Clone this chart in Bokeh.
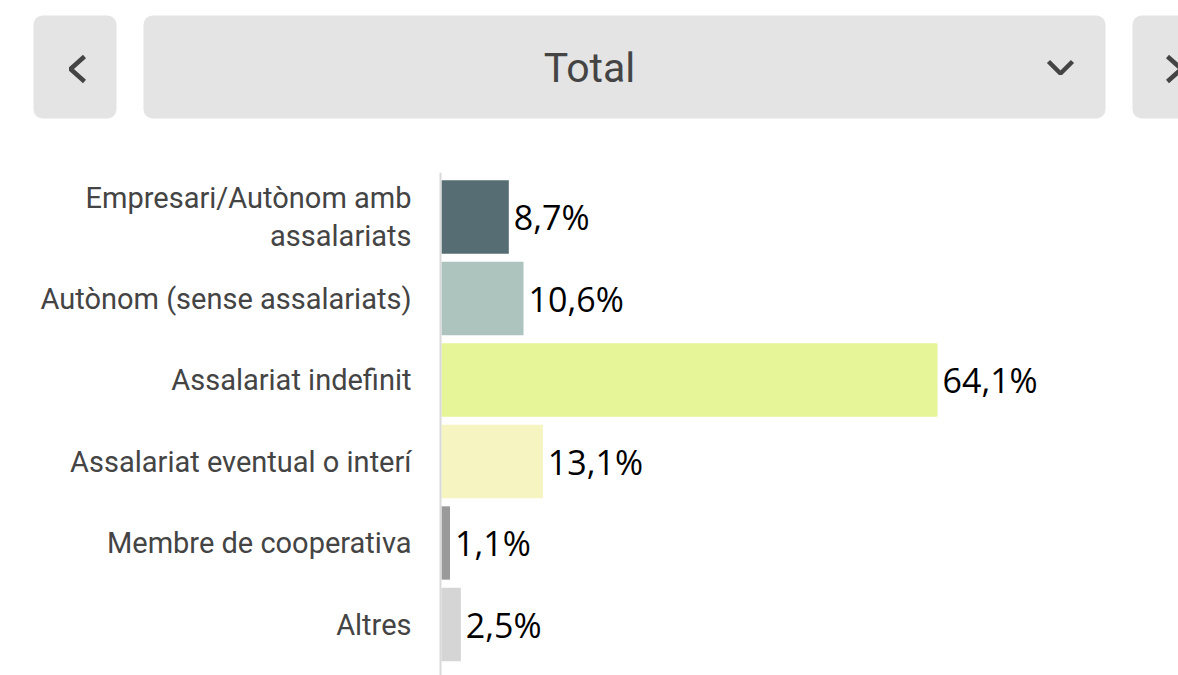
from bokeh.plotting import figure
from bokeh.models import Range1d, ColumnDataSource, Span
from bokeh.layouts import column
from bokeh.embed import file_html
from bokeh.resources import INLINE
from bokeh.core.properties import value

# ---- data ----
categories = [
    "Empresari/Autònom amb\nassalariats",
    "Autònom (sense assalariats)",
    "Assalariat indefinit",
    "Assalariat eventual o interí",
    "Membre de cooperativa",
    "Altres",
]
values = [8.7, 10.6, 64.1, 13.1, 1.1, 2.5]
value_labels = ["8,7%", "10,6%", "64,1%", "13,1%", "1,1%", "2,5%"]
colors = ["#566e73", "#adc4be", "#e6f598", "#f6f4c0", "#9a9a9a", "#d5d5d5"]
title_text = "Total"

W = 1178
HH = 172
CH = 503

# ---- header (selector bar) ----
hdr = figure(width=W, height=HH, output_backend="svg", toolbar_location=None,
             x_range=Range1d(0, W), y_range=Range1d(HH, 0),
             min_border=0)
hdr.axis.visible = False
hdr.grid.visible = False
hdr.outline_line_color = None

btn = ColumnDataSource(dict(left=[33, 143, 1132], right=[116, 1105, 1240],
                            top=[15, 15, 15], bottom=[118, 118, 118]))
hdr.quad(left="left", right="right", top="top", bottom="bottom", source=btn,
         fill_color="#e4e4e4", line_color=None, border_radius=9)
hdr.text(x=[589], y=[67], text=[title_text], text_font=value("Roboto"),
         text_font_size="41px", text_color="#444444", text_align="center",
         text_baseline="middle")
# chevrons
hdr.line(x=[84, 70, 84], y=[56, 68.5, 81], line_color="#444444", line_width=4.5)
hdr.line(x=[1048, 1060, 1072], y=[61, 73, 61], line_color="#444444", line_width=4.5)
hdr.line(x=[1167, 1181, 1167], y=[56, 68.5, 81], line_color="#444444", line_width=4.5)

# ---- bar chart ----
px_per_unit = 496 / 64.1
x0_page = 441
rows = list(range(len(categories)))
x_start = (0 - x0_page) / px_per_unit
x_end = (W - x0_page) / px_per_unit
y_top = (HH - 216.5) / 81.5
y_bot = (HH + CH - 216.5) / 81.5

p = figure(width=W, height=CH, output_backend="svg", toolbar_location=None,
           x_range=Range1d(x_start, x_end), y_range=Range1d(y_bot, y_top),
           min_border=0)
p.axis.visible = False
p.grid.visible = False
p.outline_line_color = None

src = ColumnDataSource(dict(y=rows, v=values, c=colors, cat=categories, lab=value_labels))
p.hbar(y="y", left=0, right="v", height=0.9, fill_color="c", line_color=None, source=src)
p.add_layout(Span(location=-0.13, dimension="height", line_color="#d9d9d9", line_width=2))
p.text(x="v", y="y", text="lab", source=src, x_offset=5, text_font=value("Open Sans"),
       text_font_size="34px", text_color="#000000", text_align="left",
       text_baseline="middle")
p.text(x=0, y="y", text="cat", source=src, x_offset=-30, text_font=value("Roboto"),
       text_font_size="29px", text_color="#444444", text_align="right",
       text_baseline="middle", text_line_height=1.1)

layout = column(hdr, p, spacing=0)
open("out.html", "w").write(file_html(layout, INLINE))
